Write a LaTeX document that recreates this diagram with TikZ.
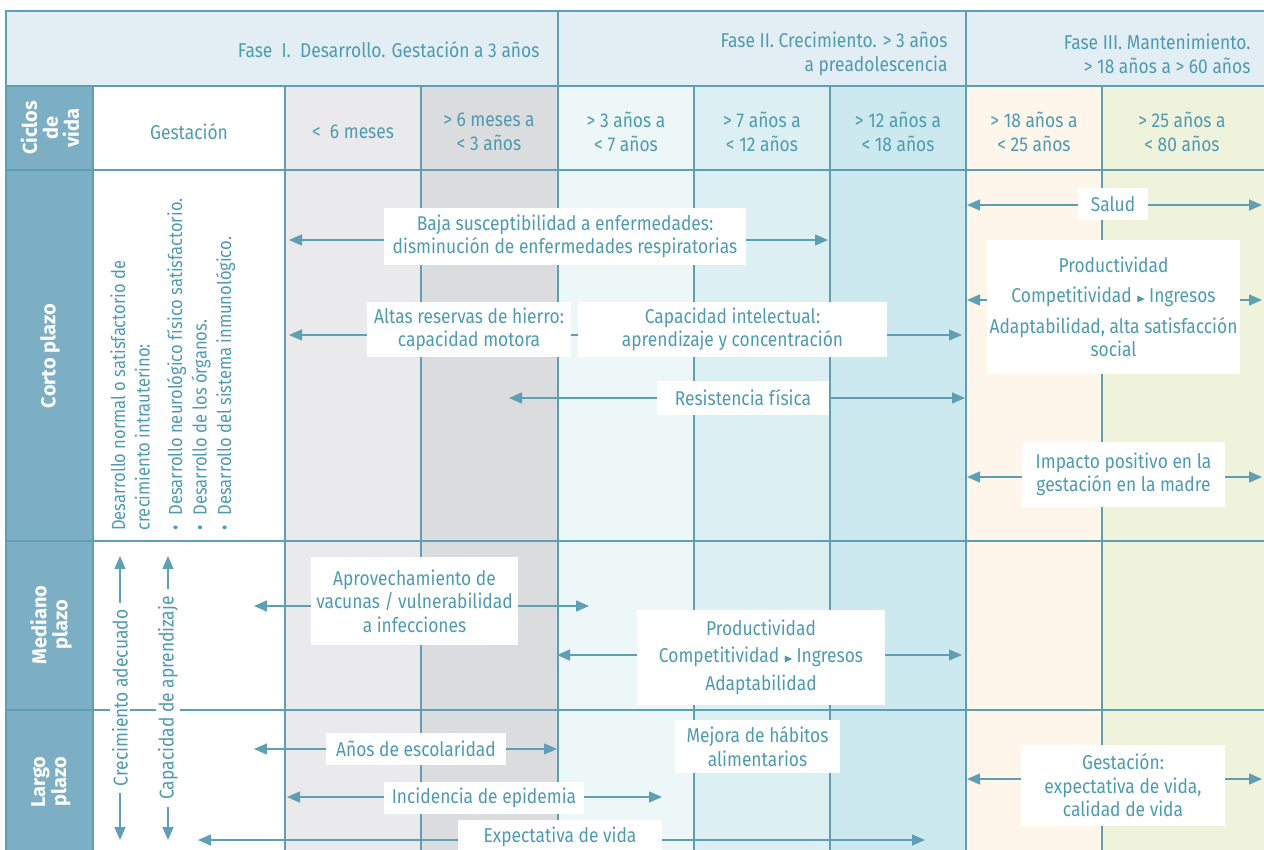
\documentclass[tikz,border=0pt]{standalone}
\usepackage{fontspec}
\setmainfont{Fira Sans}[FakeStretch=0.87, BoldFeatures={FakeStretch=1.0}]
\usepackage{amssymb}
\usetikzlibrary{arrows.meta}

\definecolor{hdrbg}{HTML}{E2EEF3}
\definecolor{lblbg}{HTML}{7CAFC3}
\definecolor{greyA}{HTML}{EAEAEC}
\definecolor{greyB}{HTML}{DBDCDE}
\definecolor{cyanA}{HTML}{EEF7F8}
\definecolor{cyanB}{HTML}{DCF0F3}
\definecolor{cyanC}{HTML}{CBE9EE}
\definecolor{creamA}{HTML}{FEF6EA}
\definecolor{oliveA}{HTML}{F0F3DB}
\definecolor{tealline}{HTML}{5E9FB3}
\definecolor{tealtext}{HTML}{4E9BB1}

\tikzset{
  txt/.style={text=tealtext, font=\fontsize{20}{23.5}\selectfont, align=center},
  box/.style={txt, fill=white, inner xsep=3pt, inner ysep=3pt},
  lbl/.style={text=white, font=\fontsize{20}{21}\selectfont\bfseries, align=center, rotate=90},
  gridline/.style={draw=tealline, line width=1.2},
  rowline/.style={draw=tealline, line width=2},
  biarrow/.style={draw=tealline, line width=1.5, {Triangle[length=13,width=11]}-{Triangle[length=13,width=11]}},
}

\begin{document}
\begin{tikzpicture}[x=1pt,y=-1pt]
\useasboundingbox (0,0) rectangle (1264,849);
\clip (0,0) rectangle (1264,849);

% backgrounds
\fill[hdrbg] (6,11) rectangle (1280,86);
\fill[lblbg] (6,86) rectangle (93,870);
\foreach \a/\b/\c in {285/421/greyA, 421/558/greyB, 558/694/cyanA, 694/830/cyanB, 830/966/cyanC, 966/1102/creamA, 1102/1280/oliveA}
	\fill[\c] (\a,86) rectangle (\b,870);

% grid
\foreach \x in {93,285,421,558,694,830,1102}
	\draw[gridline] (\x,86) -- (\x,870);
\draw[gridline] (558,11) -- (558,86);
\draw[gridline, line width=2.5] (966,11) -- (966,870);
\foreach \y in {86,170,541,710}
	\draw[rowline] (6,\y) -- (1280,\y);
\draw[gridline, line width=1.5] (6,870) -- (6,11) -- (1280,11);

% header
\node[txt, anchor=east] (faseI) at (543,50) {Fase\ \ I.\ \ Desarrollo. Gestación a 3 años};
\node[txt, anchor=east, align=right] (faseII) at (951,54) {Fase II. Crecimiento. > 3 años\\a preadolescencia};
\node[txt, anchor=east, align=right] (faseIII) at (1254,54) {Fase III. Mantenimiento.\\> 18 años a > 60 años};
\foreach \n/\x/\t in {gest/189/Gestación, mesA/353/{<\ \ 6 meses}, mesB/489/{> 6 meses a\\< 3 años}, anoA/626/{> 3 años a\\< 7 años}, anoB/762/{> 7 años a\\< 12 años}, anoC/898/{> 12 años a\\< 18 años}, anoD/1034/{> 18 años a\\< 25 años}, anoE/1182/{> 25 años a\\< 80 años}}
	\node[txt] (\n) at (\x,132) {\t};

% row labels
\node[lbl] (ciclos) at (50,128) {Ciclos\\de\\vida};
\node[lbl] (corto) at (50,356) {Corto plazo};
\node[lbl] (mediano) at (51,625) {Mediano\\plazo};
\node[lbl] (largo) at (51,782) {Largo\\plazo};

% gestacion column
\node[txt, font=\fontsize{19}{24.5}\selectfont, rotate=90, align=left, anchor=north west, inner sep=0] (intra) at (110,531)
	{Desarrollo normal o satisfactorio de\\crecimiento intrauterino:\\[8pt]\textbullet\hspace{10pt}Desarrollo neurológico físico satisfactorio.\\\textbullet\hspace{10pt}Desarrollo de los órganos.\\\textbullet\hspace{10pt}Desarrollo del sistema inmunológico.};
\foreach \n/\x in {crec/120, capac/168}
{
	\coordinate (\n-t) at (\x,556);
	\coordinate (\n-b) at (\x,840);
	\draw[biarrow] (\n-t) -- (\n-b);
}
\node[txt, rotate=90, fill=white, inner xsep=7pt, inner ysep=2pt] (crec) at (120,698) {Crecimiento adecuado};
\node[txt, rotate=90, fill=white, inner xsep=7pt, inner ysep=2pt] (capac) at (168,698) {Capacidad de aprendizaje};

% arrows
\foreach \n/\a/\b/\y in {baja/289/828/240, hierro/289/962/335, resist/509/965/398, salud/967/1262/205, prodc/967/1262/300, impacto/967/1262/477, vacunas/254/589/606, prodm/557/962/655, escol/254/557/749, epid/287/662/797, expect/198/925/840, gestl/967/1262/779}
{
	\coordinate (\n-l) at (\a,\y);
	\coordinate (\n-r) at (\b,\y);
	\draw[biarrow] (\n-l) -- (\n-r);
}

% boxes
\foreach \n/\x/\y/\w/\h/\t in {
baja/565/236.5/362/57/{Baja susceptibilidad a enfermedades:\\disminución de enfermedades respiratorias},
hierro/469/329.5/204/55/{Altas reservas de hierro:\\capacidad motora},
intel/732.5/329.5/309/55/{Capacidad intelectual:\\aprendizaje y concentración},
resist/743/398/172/34/{Resistencia física},
salud/1113/204/70/32/{Salud},
prodc/1113.5/307/247/134/{Productividad\\[7pt]Competitividad {\fontsize{12}{12}\selectfont$\blacktriangleright$}\,Ingresos\\[7pt]Adaptabilidad, alta satisfacción\\social},
impacto/1123.5/474.5/203/65/{Impacto positivo en la\\gestación en la madre},
vacunas/414.5/601/207/88/{Aprovechamiento de\\vacunas / vulnerabilidad\\a infecciones},
prodm/761/657/248/95/{Productividad\\[4pt]Competitividad {\fontsize{12}{12}\selectfont$\blacktriangleright$}\,Ingresos\\[4pt]Adaptabilidad},
escol/416/749/180/32/{Años de escolaridad},
mejora/757.5/746.5/165/53/{Mejora de hábitos\\alimentarios},
epid/484/798/200/32/{Incidencia de epidemia},
expect/560/837/204/34/{Expectativa de vida},
gestl/1123/785.5/204/81/{Gestación:\\expectativa de vida,\\calidad de vida}%
}
	\node[box, minimum width=\w, minimum height=\h] (\n) at (\x,\y) {\t};
\end{tikzpicture}
\end{document}
